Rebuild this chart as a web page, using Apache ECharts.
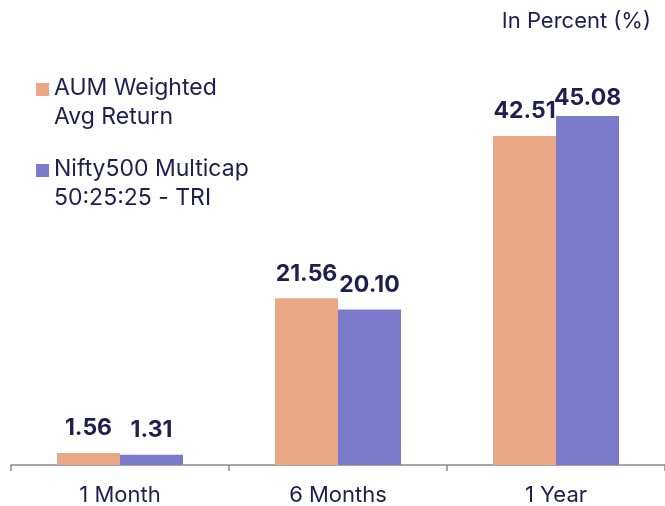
<!DOCTYPE html>
<html><head><meta charset="utf-8">
<script src="https://cdn.jsdelivr.net/npm/echarts@6/dist/echarts.min.js"></script>
<style>html,body{margin:0;padding:0;background:#fff}#c{width:665px;height:506px}</style>
</head><body><div id="c"></div>
<script>
const categories = ['1 Month', '6 Months', '1 Year'];
const aumReturn = [1.56, 21.56, 42.51];
const niftyTri = [1.31, 20.10, 45.08];
const seriesNames = ['AUM Weighted\nAvg Return', 'Nifty500 Multicap\n50:25:25 - TRI'];
const unitNote = 'In Percent (%)';

const ORANGE = '#E9A785';
const PURPLE = '#7B7BCC';
const TEXT = '#1E1E50';
const FONT = 'Inter, "Noto Sans", sans-serif';

const chart = echarts.init(document.getElementById('c'));
const lbl = {
  show: true, position: 'top', distance: 13,
  fontFamily: FONT, fontSize: 23, fontWeight: 'bold', color: TEXT,
  formatter: p => p.value.toFixed(2)
};
chart.setOption({
  animation: false,
  grid: { left: 11, right: -3, top: 78, bottom: 40, containLabel: false },
  xAxis: {
    type: 'category', data: categories,
    axisLine: { lineStyle: { color: '#8a8a8a', width: 1.5 } },
    axisTick: { show: true, length: 6, lineStyle: { color: '#8a8a8a', width: 1.5 } },
    axisLabel: { fontFamily: FONT, fontSize: 22, color: TEXT, margin: 19 }
  },
  yAxis: { type: 'value', min: 0, max: 50, show: false, splitLine: { show: false } },
  series: [
    { name: seriesNames[0], type: 'bar', data: aumReturn, barWidth: 63, barGap: '0%',
      itemStyle: { color: ORANGE }, label: lbl },
    { name: seriesNames[1], type: 'bar', data: niftyTri.map((v, i) => i === 2 ? { value: v, label: { distance: 7 } } : v), barWidth: 63,
      itemStyle: { color: PURPLE }, label: lbl }
  ],
  graphic: [
    { type: 'text', right: 14, top: 10, style: { text: unitNote, font: '22px ' + FONT, fill: TEXT } },
    { type: 'rect', left: 36, top: 83, shape: { width: 13, height: 13 }, style: { fill: ORANGE } },
    { type: 'text', left: 54, top: 74, style: { text: seriesNames[0], font: '23px ' + FONT, fill: TEXT, lineHeight: 29 } },
    { type: 'rect', left: 36, top: 164, shape: { width: 13, height: 13 }, style: { fill: PURPLE } },
    { type: 'text', left: 54, top: 155, style: { text: seriesNames[1], font: '23px ' + FONT, fill: TEXT, lineHeight: 29 } }
  ]
});
</script></body></html>
